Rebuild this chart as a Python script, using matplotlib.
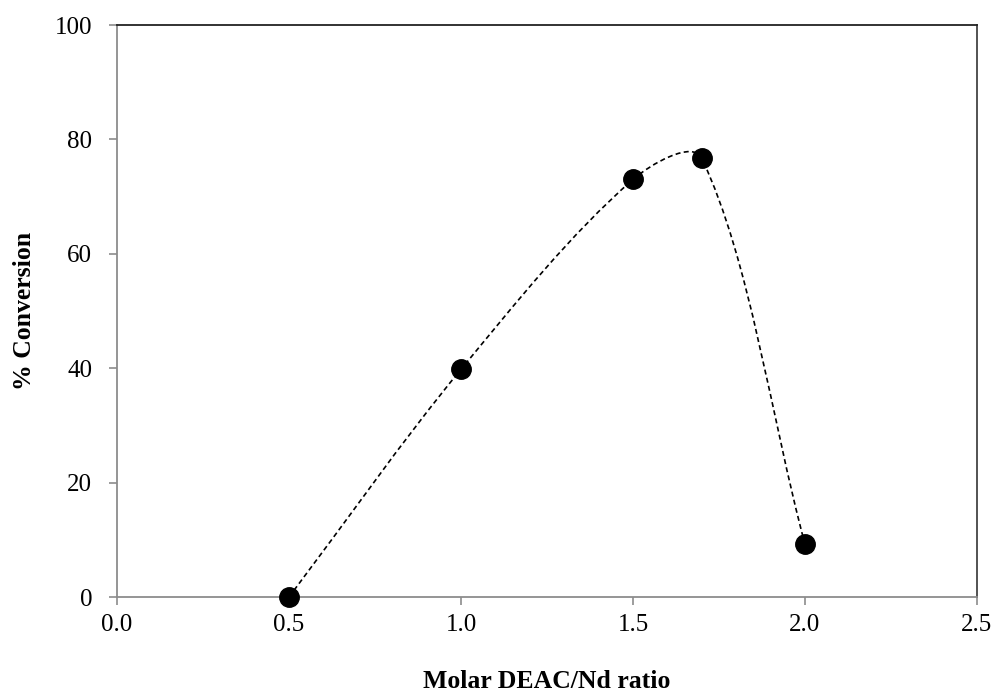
import numpy as np
import matplotlib.pyplot as plt
from matplotlib.path import Path
from matplotlib.patches import PathPatch

ratio = [0.5, 1.0, 1.5, 1.7, 2.0]
conversion = [0.0, 39.8, 73.0, 76.7, 9.2]

xlabel = "Molar DEAC/Nd ratio"
ylabel = "% Conversion"

plt.rcParams['font.family'] = ['Liberation Serif', 'DejaVu Serif']

fig = plt.figure(figsize=(9.95, 6.95), dpi=100)
ax = fig.add_axes([0.1176, 0.141, 0.8643, 0.823])
ax.set_xlim(0, 2.5)
ax.set_ylim(0, 100)

# Excel-style smoothed line: bezier segments, control lengths scaled by
# neighbouring chord lengths measured on screen
bbox = ax.get_window_extent()
sx = bbox.width / 2.5
sy = bbox.height / 100.0
pts = np.column_stack([ratio, conversion])
scr = pts * [sx, sy]
ext = np.vstack([scr[0], scr, scr[-1]])
n = len(pts)
tan = [ext[i + 2] - ext[i] for i in range(n)]
before, after = [], []
for i in range(n):
    d_prev = np.hypot(*(ext[i + 1] - ext[i]))
    d_next = np.hypot(*(ext[i + 2] - ext[i + 1]))
    tot = d_prev + d_next
    before.append(scr[i] - tan[i] * (d_prev / tot) / 3.0)
    after.append(scr[i] + tan[i] * (d_next / tot) / 3.0)
verts = [scr[0]]
codes = [Path.MOVETO]
for i in range(n - 1):
    verts += [after[i], before[i + 1], scr[i + 1]]
    codes += [Path.CURVE4] * 3
verts = np.array(verts) / [sx, sy]
curve = PathPatch(Path(verts, codes), facecolor='none', edgecolor='black',
                  linewidth=1.2, linestyle=(0, (3, 2)), zorder=2)
ax.add_patch(curve)

ax.plot(ratio, conversion, 'o', color='black', markersize=14, zorder=3, clip_on=False)

ax.set_xticks(np.arange(0, 2.51, 0.5))
ax.set_xticklabels(['%.1f' % v for v in np.arange(0, 2.51, 0.5)])
ax.set_yticks(np.arange(0, 101, 20))

for side in ['left', 'bottom']:
    ax.spines[side].set_color('#8c8c8c')
ax.spines['top'].set_color('#222222')
ax.spines['right'].set_color('#444444')
for s in ax.spines.values():
    s.set_linewidth(1.3)

ax.tick_params(axis='both', direction='out', length=6, width=1.2, color='#8c8c8c',
               labelsize=18)
ax.tick_params(axis='y', pad=12)
ax.tick_params(axis='x', pad=6)

ax.set_xlabel(xlabel, fontsize=18.5, fontweight='bold', labelpad=25)
ax.set_ylabel(ylabel, fontsize=18.5, fontweight='bold', labelpad=13)

fig.savefig('out.png', dpi=100)
